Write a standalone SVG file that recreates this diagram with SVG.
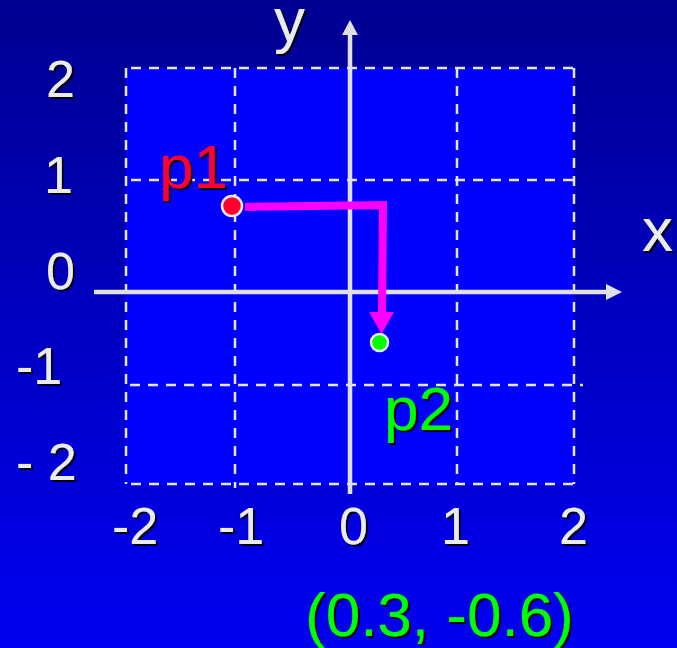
<svg xmlns="http://www.w3.org/2000/svg" width="677" height="648" viewBox="0 0 677 648">
  <defs>
    <linearGradient id="bg" x1="0" y1="0" x2="0" y2="1">
      <stop offset="0" stop-color="#000092"/>
      <stop offset="1" stop-color="#0000f2"/>
    </linearGradient>
    <filter id="sh" x="-20%" y="-20%" width="140%" height="140%">
      <feDropShadow dx="2" dy="2" stdDeviation="0.7" flood-color="#000000" flood-opacity="0.9"/>
    </filter>
    <style>
      .grid { stroke: #e6e6e6; stroke-width: 2.5; stroke-dasharray: 10 8; fill: none; }
      .axis { stroke: #e0e0e0; stroke-width: 4.5; fill: none; }
      .head { fill: #e0e0e0; }
      .lbl { font-family: "Liberation Sans", Arial, sans-serif; font-size: 52px; fill: #ebebeb; filter: url(#sh); }
      .big { font-family: "Liberation Sans", Arial, sans-serif; font-size: 62px; filter: url(#sh); }
    </style>
  </defs>

  <rect x="0" y="0" width="677" height="648" fill="url(#bg)"/>

  <g id="grid">
    <rect x="126" y="68" width="448" height="416" fill="#0000ff"/>
    <line class="grid" x1="126" y1="68" x2="574" y2="68" stroke-dashoffset="-5"/>
    <line class="grid" x1="126" y1="484" x2="574" y2="484" stroke-dashoffset="-5"/>
    <line class="grid" x1="126" y1="180" x2="578" y2="180" stroke-dashoffset="-5"/>
    <line class="grid" x1="130" y1="385" x2="583" y2="385"/>
    <line class="grid" x1="126" y1="68" x2="126" y2="484"/>
    <line class="grid" x1="574" y1="68" x2="574" y2="484"/>
    <line class="grid" x1="235" y1="68" x2="235" y2="488"/>
    <line class="grid" x1="457" y1="68" x2="457" y2="484"/>
  </g>

  <g id="axes">
    <line class="axis" x1="94" y1="292" x2="608" y2="292"/>
    <polygon class="head" points="606,284 622,292 606,300"/>
    <line class="axis" x1="350" y1="494" x2="350" y2="34"/>
    <polygon class="head" points="342,35 350,20 358,35"/>
  </g>

  <g id="axis-labels">
    <text class="lbl" x="46" y="97">2</text>
    <text class="lbl" x="44" y="193">1</text>
    <text class="lbl" x="46" y="289">0</text>
    <text class="lbl" x="16" y="384">-1</text>
    <text class="lbl" x="16" y="480">- 2</text>
    <text class="lbl" x="112" y="544">-2</text>
    <text class="lbl" x="218" y="544">-1</text>
    <text class="lbl" x="339" y="544">0</text>
    <text class="lbl" x="441" y="544">1</text>
    <text class="lbl" x="559" y="544">2</text>
    <text class="big" x="274" y="41" fill="#ebebeb" font-size="64">y</text>
    <text class="big" x="642" y="251" fill="#ebebeb" font-size="64">x</text>
  </g>

  <g id="connectors">
    <polyline points="245,207 383,205 382,313" fill="none" stroke="#ff00ff" stroke-width="8" stroke-linejoin="miter"/>
    <polygon points="369,312 394,312 381.5,334" fill="#ff00ff"/>
  </g>

  <g id="p1">
    <circle cx="232" cy="206" r="10" fill="#ff0030" stroke="#e8e8e8" stroke-width="2.5"/>
    <text class="big" x="159" y="188" fill="#ff0030">p1</text>
  </g>

  <g id="p2">
    <circle cx="379.5" cy="342.5" r="8.5" fill="#00ff00" stroke="#e8e8e8" stroke-width="2.5"/>
    <text class="big" x="384" y="430" fill="#00ff00">p2</text>
  </g>

  <g id="coords">
    <text class="big" x="305" y="636" fill="#00ff00">(0.3, -0.6)</text>
  </g>
</svg>
